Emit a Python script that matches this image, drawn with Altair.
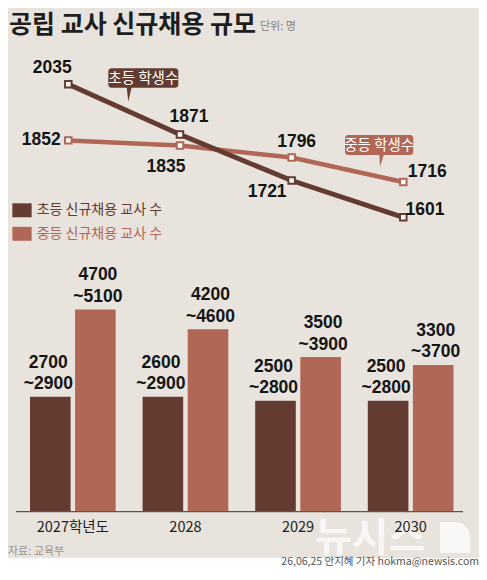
import altair as alt
import pandas as pd

# ---------------- data ----------------
years = ["2027", "2028", "2029", "2030"]
year_labels = ["2027학년도", "2028", "2029", "2030"]

elem_students = [2035, 1871, 1721, 1601]
mid_students = [1852, 1835, 1796, 1716]

elem_teacher_lo = [2700, 2600, 2500, 2500]
elem_teacher_hi = [2900, 2900, 2800, 2800]
mid_teacher_lo = [4700, 4200, 3500, 3300]
mid_teacher_hi = [5100, 4600, 3900, 3700]

bar_series = ["초등 신규채용 교사 수", "중등 신규채용 교사 수"]
line_series = ["초등 학생수", "중등 학생수"]

# ---------------- styles ----------------
BG = "#e8e4dd"
DARK = "#633b31"
LIGHT = "#b16756"
KR = "Noto Sans CJK KR"
NUM = "Liberation Sans Narrow, Liberation Sans, Arial, sans-serif"
NUM_SIZE = 17.5
W, H = 471, 560

# ---------------- tables ----------------
bar_rows = []
for i, y in enumerate(years):
    bar_rows.append({"year": y, "series": bar_series[0], "lo": elem_teacher_lo[i], "hi": elem_teacher_hi[i]})
    bar_rows.append({"year": y, "series": bar_series[1], "lo": mid_teacher_lo[i], "hi": mid_teacher_hi[i]})
bar_df = pd.DataFrame(bar_rows)
bar_df["lo_txt"] = bar_df["lo"].astype(str)
bar_df["hi_txt"] = "~" + bar_df["hi"].astype(str)

year_df = pd.DataFrame({"year": years, "label": year_labels})
legend_df = pd.DataFrame({"series": bar_series})

line_rows = []
for i, y in enumerate(years):
    line_rows.append({"year": y, "series": line_series[0], "value": elem_students[i]})
    line_rows.append({"year": y, "series": line_series[1], "value": mid_students[i]})
line_df = pd.DataFrame(line_rows)

one = pd.DataFrame({"k": [0]})

# ---------------- scales ----------------
xb = alt.Scale(domain=years, range=[22, 445.5], paddingInner=0.239, paddingOuter=0)
xo = alt.Scale(domain=bar_series, paddingInner=0.0996, paddingOuter=0)
yb = alt.Scale(domain=[0, 5100], range=[503.7, 301.4], zero=True, nice=False)
color_scale = alt.Scale(domain=bar_series, range=[DARK, LIGHT])

xl = alt.Scale(type="point", domain=years, range=[60.3, 395.3], padding=0)
yl = alt.Scale(domain=[1601, 2035], range=[209.3, 76.3], zero=False, nice=False)

# ---------------- background decorations ----------------
white_strip = alt.Chart(one).mark_rect(color="white").encode(
    x=alt.value(0), x2=alt.value(W), y=alt.value(550), y2=alt.value(H)
)
wm_text = alt.Chart(one).mark_text(
    text="뉴시스", font=KR, fontWeight="bold", fontSize=40, color="white", opacity=0.72,
    align="center", baseline="alphabetic"
).encode(x=alt.value(362), y=alt.value(543))
wm_d = alt.Chart(one).mark_rect(color="white", opacity=0.72, cornerRadiusTopRight=20).encode(
    x=alt.value(432), x2=alt.value(462), y=alt.value(514), y2=alt.value(545)
)

# ---------------- bars ----------------
bars = alt.Chart(bar_df).mark_bar().encode(
    x=alt.X("year:N", scale=xb, axis=None),
    xOffset=alt.XOffset("series:N", scale=xo),
    y=alt.Y("hi:Q", scale=yb, axis=None),
    color=alt.Color("series:N", scale=color_scale, legend=None),
)

series_dx = {bar_series[0]: -2, bar_series[1]: 2.5}
bar_labels = []
for s, sdx in series_dx.items():
    for field, dy in (("lo_txt", -29), ("hi_txt", -7.5)):
        bar_labels.append(
            alt.Chart(bar_df).transform_filter(alt.datum.series == s).mark_text(
                font=NUM, fontWeight="bold", fontSize=NUM_SIZE, dx=sdx, dy=dy,
                baseline="alphabetic", color="#141414"
            ).encode(
                x=alt.X("year:N", scale=xb, axis=None),
                xOffset=alt.XOffset("series:N", scale=xo),
                y=alt.Y("hi:Q", scale=yb, axis=None),
                text=f"{field}:N",
            )
        )

base_rule = alt.Chart(one).mark_rule(color="#5a5652", strokeWidth=1.2).encode(
    y=alt.YDatum(0, scale=yb), x=alt.value(8), x2=alt.value(455)
)
year_text = alt.Chart(year_df).mark_text(
    font=KR, fontSize=14.5, dy=20, baseline="alphabetic", color="#222222"
).encode(
    x=alt.X("year:N", scale=xb, axis=None),
    y=alt.YDatum(0, scale=yb),
    text="label:N",
)
bar_group = alt.layer(bars, *bar_labels, base_rule, year_text)

# ---------------- legend (manual) ----------------
ly = alt.Scale(type="point", domain=bar_series, range=[202.3, 225.8], padding=0)
leg_sym = alt.Chart(legend_df).mark_point(
    shape="M-1,-0.725H1V0.725H-1Z", size=372, filled=True, opacity=1
).encode(
    x=alt.value(14),
    y=alt.Y("series:N", scale=ly, axis=None),
    color=alt.Color("series:N", scale=color_scale, legend=None),
)
leg_txt = alt.Chart(legend_df).mark_text(
    font=KR, fontSize=14, align="left", baseline="middle"
).encode(
    x=alt.value(28.7),
    y=alt.Y("series:N", scale=ly, axis=None),
    text="series:N",
    color=alt.Color("series:N", scale=color_scale, legend=None),
)
legend_group = alt.layer(leg_sym, leg_txt)

# ---------------- lines ----------------
def line_layer(series, color, width):
    base = alt.Chart(line_df).transform_filter(alt.datum.series == series)
    ln = base.mark_line(color=color, strokeWidth=width).encode(
        x=alt.X("year:N", scale=xl, axis=None),
        y=alt.Y("value:Q", scale=yl, axis=None),
    )
    pt = base.mark_point(shape="square", filled=True, fill="white", stroke=color,
                         strokeWidth=2, size=42, opacity=1).encode(
        x=alt.X("year:N", scale=xl, axis=None),
        y=alt.Y("value:Q", scale=yl, axis=None),
    )
    return [ln, pt]

label_offsets = {
    (line_series[0], "2027"): (-16, -11.6),
    (line_series[0], "2028"): (9, -12.6),
    (line_series[0], "2029"): (-24.5, 16.4),
    (line_series[0], "2030"): (21.7, -2.3),
    (line_series[1], "2027"): (-27, 4.7),
    (line_series[1], "2028"): (-14, 26),
    (line_series[1], "2029"): (5, -11),
    (line_series[1], "2030"): (24, -5),
}
point_labels = []
for (s, y), (dx, dy) in label_offsets.items():
    point_labels.append(
        alt.Chart(line_df)
        .transform_filter((alt.datum.series == s) & (alt.datum.year == y))
        .mark_text(font=NUM, fontWeight="bold", fontSize=NUM_SIZE, dx=dx, dy=dy,
                   baseline="alphabetic", align="center", color="#141414")
        .encode(
            x=alt.X("year:N", scale=xl, axis=None),
            y=alt.Y("value:Q", scale=yl, axis=None),
            text="value:Q",
        )
    )

line_group = alt.layer(
    *line_layer(line_series[1], LIGHT, 4.5),
    *line_layer(line_series[0], DARK, 5),
    *point_labels,
)

# ---------------- callouts ----------------
def callout(text, color, x0, x1, y0, y1, px, py, psize, shape):
    box = alt.Chart(one).mark_rect(color=color, cornerRadius=3).encode(
        x=alt.value(x0), x2=alt.value(x1), y=alt.value(y0), y2=alt.value(y1)
    )
    ptr = alt.Chart(one).mark_point(shape=shape, filled=True, color=color, size=psize, opacity=1).encode(
        x=alt.value(px), y=alt.value(py)
    )
    txt = alt.Chart(one).mark_text(text=text, font=KR, fontSize=14.5, color="white",
                                   align="center", baseline="middle").encode(
        x=alt.value((x0 + x1) / 2), y=alt.value((y0 + y1) / 2 + 0.5)
    )
    return [box, ptr, txt]

call1 = callout(line_series[0], DARK, 100.3, 170.3, 60.3, 79.7, 121.2, 86.4, 216,
                "M-0.34,-1L0.34,-1L-0.12,1Z")
call2 = callout(line_series[1], LIGHT, 337, 405.3, 127, 147, 373.7, 152.4, 161,
                "M-0.37,-1L0.37,-1L-0.27,1Z")

# ---------------- texts ----------------
title = alt.Chart(one).mark_text(
    text="공립 교사 신규채용 규모", font=KR, fontWeight="bold", fontSize=25, color="#1e1e1e",
    align="left", baseline="alphabetic"
).encode(x=alt.value(1), y=alt.value(24.5))
unit = alt.Chart(one).mark_text(
    text="단위: 명", font=KR, fontSize=11, color="#85807a", align="left", baseline="alphabetic"
).encode(x=alt.value(252), y=alt.value(22))
source = alt.Chart(one).mark_text(
    text="자료: 교육부", font=KR, fontSize=11, color="#9a958e", align="left", baseline="alphabetic"
).encode(x=alt.value(0), y=alt.value(546.5))
credit = alt.Chart(one).mark_text(
    text="26,06,25 안지혜 기자 hokma@newsis.com", font=KR, fontSize=10.5, color="#555555",
    align="right", baseline="alphabetic"
).encode(x=alt.value(471), y=alt.value(557))

chart = alt.layer(
    white_strip, wm_text, wm_d,
    bar_group,
    legend_group,
    line_group,
    *call1, *call2,
    title, unit, source, credit,
).resolve_scale(
    x="independent", y="independent", color="independent"
).properties(
    width=W, height=H, padding=0,
    autosize=alt.AutoSizeParams(type="none"),
    background=BG,
).configure_view(stroke=None)

chart.save("out.html", embed_options={"renderer": "svg", "actions": False})
